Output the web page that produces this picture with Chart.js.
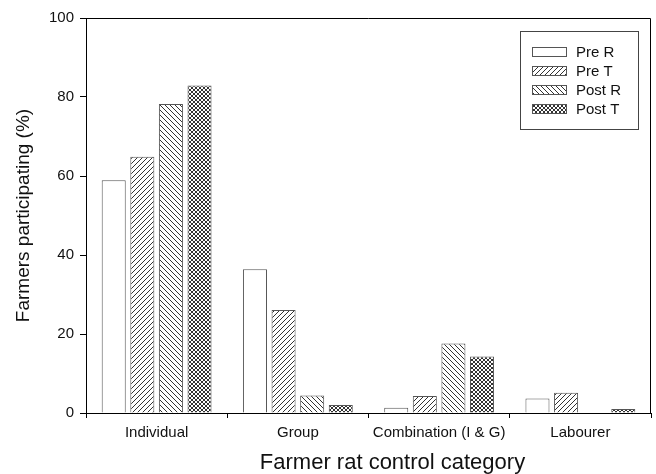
<!DOCTYPE html>
<html>
<head>
<meta charset="utf-8">
<script src="https://cdn.jsdelivr.net/npm/chart.js@4/dist/chart.umd.min.js"></script>
<style>
  html, body { margin: 0; padding: 0; background: #fff; }
</style>
</head>
<body>
<canvas id="ratChart" width="656" height="474"></canvas>
<script>
// data
const categories = ['Individual', 'Group', 'Combination (I & G)', 'Labourer'];
const seriesNames = ['Pre R', 'Pre T', 'Post R', 'Post T'];
const preR  = [58.9, 36.4, 1.3, 3.7];
const preT  = [64.9, 26.1, 4.3, 5.1];
const postR = [78.2, 4.4, 17.6, 0];
const postT = [82.9, 2.0, 14.3, 1.0];
const yTicks = [0, 20, 40, 60, 80, 100];
const xTitle = 'Farmer rat control category';

const FONT = 'Liberation Sans, Arial, sans-serif';

// hatch fills
function makePattern(kind) {
    const s = kind === 'cross' ? 4 : 5;
    const c = document.createElement('canvas');
    c.width = s; c.height = s;
    const g = c.getContext('2d');
    g.fillStyle = '#fff';
    g.fillRect(0, 0, s, s);
    g.strokeStyle = '#333';
    g.lineWidth = 1;
    const fwd = () => {
        g.beginPath();
        g.moveTo(0, s); g.lineTo(s, 0);
        g.moveTo(-1, 1); g.lineTo(1, -1);
        g.moveTo(s - 1, s + 1); g.lineTo(s + 1, s - 1);
        g.stroke();
    };
    const back = () => {
        g.beginPath();
        g.moveTo(0, 0); g.lineTo(s, s);
        g.moveTo(s - 1, -1); g.lineTo(s + 1, 1);
        g.moveTo(-1, s - 1); g.lineTo(1, s + 1);
        g.stroke();
    };
    if (kind === 'fwd') fwd();
    if (kind === 'back') back();
    if (kind === 'cross') { fwd(); back(); }
    return g.createPattern(c, 'repeat');
}

const fills = ['#ffffff', makePattern('fwd'), makePattern('back'), makePattern('cross')];
const values = [preR, preT, postR, postT];

const datasets = seriesNames.map((name, i) => ({
    label: name,
    data: values[i],
    backgroundColor: fills[i],
    borderColor: '#555',
    borderWidth: 1,
    borderSkipped: 'bottom',
    barPercentage: 0.84,
    categoryPercentage: 0.81
}));

// frame on top/right of plot, boxed legend inside, x title (sits right of centre in the original)
const framePlugin = {
    id: 'frame',
    afterDraw(chart) {
        const { ctx, chartArea: a } = chart;
        ctx.save();
        ctx.strokeStyle = '#000';
        ctx.lineWidth = 1;
        ctx.beginPath();
        ctx.moveTo(a.left, a.top + 0.5);
        ctx.lineTo(a.right - 0.5, a.top + 0.5);
        ctx.lineTo(a.right - 0.5, a.bottom);
        ctx.stroke();

        // legend
        const bx = a.right - 131, by = a.top + 13, bw = 118, bh = 98;
        ctx.strokeStyle = '#444';
        ctx.strokeRect(bx + 0.5, by + 0.5, bw, bh);
        ctx.font = '15px ' + FONT;
        ctx.textBaseline = 'middle';
        chart.data.datasets.forEach((ds, i) => {
            const cy = by + 21 + i * 19;
            ctx.fillStyle = ds.backgroundColor;
            ctx.fillRect(bx + 12, cy - 4, 34, 8);
            ctx.strokeStyle = '#555';
            ctx.strokeRect(bx + 12.5, cy - 4.5, 34, 9);
            ctx.fillStyle = '#111';
            ctx.fillText(ds.label, bx + 56, cy + 1);
        });

        // x axis title
        ctx.font = '22px ' + FONT;
        ctx.textAlign = 'center';
        ctx.fillStyle = '#111';
        ctx.fillText(xTitle, (a.left + a.right) / 2 + 24, a.bottom + 50);
        ctx.restore();
    }
};

new Chart(document.getElementById('ratChart'), {
    type: 'bar',
    data: { labels: categories, datasets: datasets },
    options: {
        responsive: false,
        animation: false,
        devicePixelRatio: 1,
        layout: { padding: { top: 18, right: 5, left: 0, bottom: 0 } },
        plugins: {
            legend: { display: false },
            tooltip: { enabled: false }
        },
        scales: {
            x: {
                grid: {
                    display: true,
                    offset: true,
                    drawOnChartArea: false,
                    drawTicks: true,
                    tickLength: 5,
                    color: '#000'
                },
                border: { color: '#000', width: 1 },
                ticks: {
                    color: '#111',
                    font: { family: FONT, size: 15 },
                    padding: 6,
                    maxRotation: 0
                },
                title: { display: false },
                afterFit(scale) { scale.height = 61; }
            },
            y: {
                min: 0,
                max: 100,
                afterBuildTicks(scale) { scale.ticks = yTicks.map(v => ({ value: v })); },
                grid: {
                    display: true,
                    drawOnChartArea: false,
                    drawTicks: true,
                    tickLength: 6,
                    color: '#000'
                },
                border: { color: '#000', width: 1 },
                ticks: {
                    color: '#111',
                    font: { family: FONT, size: 15 },
                    padding: 6
                },
                title: {
                    display: true,
                    text: 'Farmers participating (%)',
                    color: '#111',
                    font: { family: FONT, size: 19 },
                    padding: { top: 12, bottom: 4 }
                },
                afterFit(scale) { scale.width = 86; }
            }
        }
    },
    plugins: [framePlugin]
});
</script>
</body>
</html>
